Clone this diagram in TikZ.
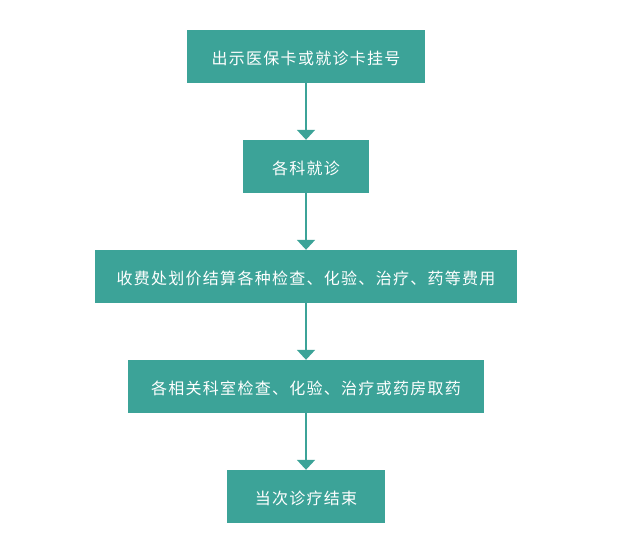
\documentclass[tikz,border=0pt]{standalone}
\usepackage{fontspec}
\usepackage{tikz}
\usetikzlibrary{arrows.meta,positioning}
\newfontfamily\cjk[LetterSpace=8]{Noto Sans CJK SC}
\definecolor{Teal}{HTML}{3CA398}

\begin{document}
\begin{tikzpicture}[>={Triangle[width=18pt,length=10pt]}, font=\cjk\fontsize{16pt}{18pt}\selectfont,
  stepbox/.style={fill=Teal, text=white, minimum height=53pt, inner sep=0pt, text height=15pt, text depth=0pt},
  flow/.style={->, Teal, line width=2pt}]
\useasboundingbox (0,0) rectangle (631pt,-558pt);
\node[stepbox, minimum width=238pt] (reg) at (306pt,-56.5pt) {出示医保卡或就诊卡挂号};
\node[stepbox, minimum width=126pt, below=56.6pt of reg] (visit) {各科就诊};
\node[stepbox, minimum width=422pt, below=56.6pt of visit] (pay) {收费处划价结算各种检查、化验、治疗、药等费用};
\node[stepbox, minimum width=356pt, below=56.6pt of pay] (dept) {各相关科室检查、化验、治疗或药房取药};
\node[stepbox, minimum width=158pt, below=56.6pt of dept] (done) {当次诊疗结束};
\draw[flow] (reg) -- (visit);
\draw[flow] (visit) -- (pay);
\draw[flow] (pay) -- (dept);
\draw[flow] (dept) -- (done);
\end{tikzpicture}
\end{document}
